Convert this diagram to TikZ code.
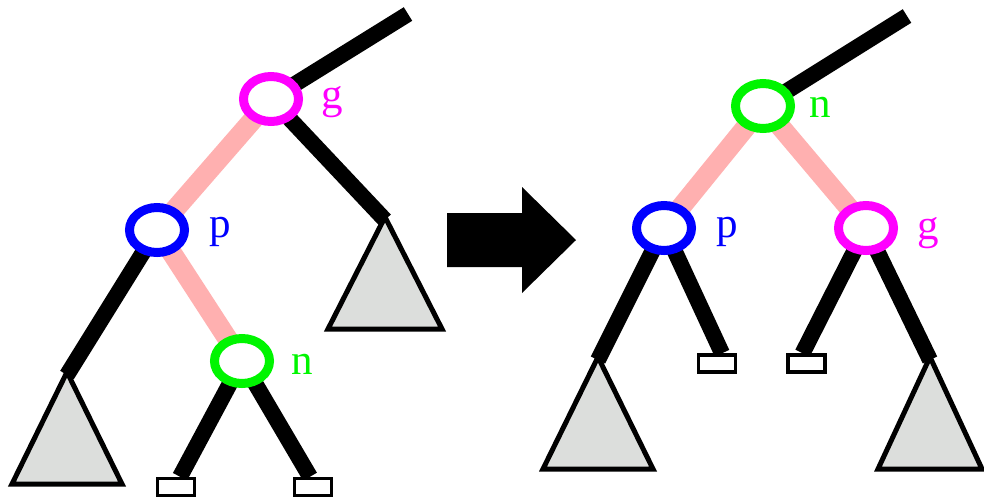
\documentclass[tikz,border=0pt]{standalone}
\usepackage{fontspec}
\setmainfont{Liberation Serif}
\usepackage{tikz}
\usetikzlibrary{shapes.geometric, backgrounds}
\definecolor{gcol}{RGB}{255,0,255}
\definecolor{pcol}{RGB}{0,0,255}
\definecolor{ncol}{RGB}{0,245,0}
\definecolor{redlink}{RGB}{255,176,176}
\definecolor{treegray}{RGB}{220,222,220}

\tikzset{
    tnode/.style={ellipse, draw=#1, line width=9pt, fill=white, inner sep=0pt,
        minimum width=55pt, minimum height=45pt},
    tlabel/.style={text=#1, inner sep=0pt, font=\fontsize{43}{43}\selectfont},
    blacklink/.style={line width=16pt, black},
    rededge/.style={line width=20pt, redlink},
    subtree/.style={draw=black, line width=5pt, fill=treegray, line join=miter},
    leafbox/.style={rectangle, draw=black, line width=3.5pt, fill=white, inner sep=0pt,
        minimum width=37pt, minimum height=17pt}
}

\begin{document}
\begin{tikzpicture}[x=1pt, y=-1pt]
        \useasboundingbox (0,0) rectangle (984,498);

        % Left tree (before rotation)
        \node[tnode=gcol] (g1) at (271,99) {};
        \node[tnode=pcol] (p1) at (157,230) {};
        \node[tnode=ncol] (n1) at (242,361) {};
        \node[tlabel=gcol] (g1lbl) at (332,102) {g};
        \node[tlabel=pcol] (p1lbl) at (220,232) {p};
        \node[tlabel=ncol] (n1lbl) at (302,364) {n};

        \coordinate (top1) at (408,14);
        \coordinate (t1a) at (67,372);
        \coordinate (t1b) at (385,217);
        \draw[subtree] (t1a) -- ++(-55,112) -- ++(110,0) -- cycle;
        \draw[subtree] (t1b) -- ++(-57,112) -- ++(114,0) -- cycle;
        \node[leafbox] (b1a) at (176,487) {};
        \node[leafbox] (b1b) at (313,487) {};

        \begin{scope}[on background layer]
            \draw[blacklink] (g1.center) -- (top1);
            \draw[blacklink] (g1.center) -- ([yshift=-3pt]t1b);
            \draw[rededge] (g1.center) -- (p1.center);
            \draw[blacklink] (p1.center) -- ([yshift=-3pt]t1a);
            \draw[rededge] (p1.center) -- (n1.center);
            \draw[blacklink] (n1.center) -- ([xshift=4pt]b1a.north);
            \draw[blacklink] (n1.center) -- ([xshift=-3pt]b1b.north);
        \end{scope}

        % Rotation arrow
        \fill[black] (447,213) -- (522,213) -- (522,187) -- (576,240)
            -- (522,293) -- (522,267) -- (447,267) -- cycle;

        % Right tree (after rotation)
        \node[tnode=ncol] (n2) at (763,106) {};
        \node[tnode=pcol] (p2) at (664,228) {};
        \node[tnode=gcol] (g2) at (866,228) {};
        \node[tlabel=ncol] (n2lbl) at (820,107) {n};
        \node[tlabel=pcol] (p2lbl) at (727,232) {p};
        \node[tlabel=gcol] (g2lbl) at (928,233) {g};

        \coordinate (top2) at (907,16);
        \coordinate (t2a) at (598,357);
        \coordinate (t2b) at (930,357);
        \draw[subtree] (t2a) -- ++(-55,112) -- ++(110,0) -- cycle;
        \draw[subtree] (t2b) -- ++(-52,112) -- ++(104,0) -- cycle;
        \node[leafbox] (b2a) at (717,363.5) {};
        \node[leafbox] (b2b) at (806.5,363.5) {};

        \begin{scope}[on background layer]
            \draw[blacklink] (n2.center) -- (top2);
            \draw[rededge] (n2.center) -- (p2.center);
            \draw[rededge] (n2.center) -- (g2.center);
            \draw[blacklink] (p2.center) -- ([yshift=-3pt]t2a);
            \draw[blacklink] (p2.center) -- ([xshift=5pt]b2a.north);
            \draw[blacklink] (g2.center) -- ([xshift=-4pt]b2b.north);
            \draw[blacklink] (g2.center) -- ([yshift=-3pt]t2b);
        \end{scope}

    \end{tikzpicture}
\end{document}
